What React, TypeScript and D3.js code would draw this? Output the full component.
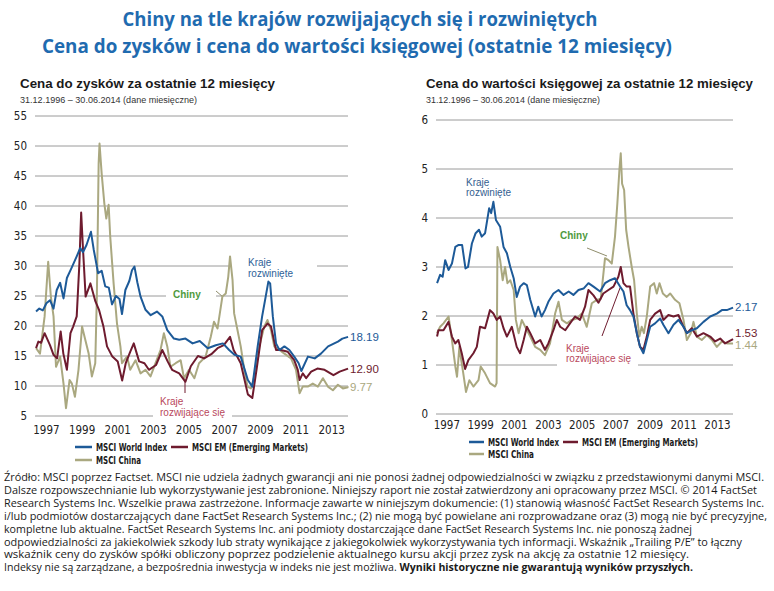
import * as d3 from "d3";
import { ReactNode } from "react";

// P/E (trailing 12m), monthly source data: [year, value]
const peWorld: [number, number][] = [
  [1996.92, 22.4], [1997.1, 22.9], [1997.3, 22.6], [1997.5, 23.8], [1997.7, 24.3], [1997.9, 22.9],
  [1998.08, 26.0], [1998.27, 27.2], [1998.46, 24.6], [1998.65, 28.0], [1998.9, 29.6], [1999.2, 31.6],
  [1999.4, 33.0], [1999.55, 32.3], [1999.75, 33.5], [2000.0, 35.7], [2000.15, 32.8], [2000.4, 28.8],
  [2000.6, 29.2], [2000.8, 26.6], [2001.0, 26.4], [2001.18, 23.6], [2001.4, 25.0], [2001.6, 24.5],
  [2001.74, 22.0], [2001.93, 26.0], [2002.15, 27.5], [2002.3, 29.3], [2002.44, 29.9], [2002.6, 27.3],
  [2002.78, 24.9], [2003.06, 22.7], [2003.35, 21.8], [2003.7, 22.4], [2004.0, 21.6], [2004.28, 19.3],
  [2004.65, 17.9], [2004.95, 17.7], [2005.3, 17.9], [2005.7, 17.1], [2006.1, 17.5], [2006.55, 16.3],
  [2007.0, 16.8], [2007.4, 17.1], [2007.75, 16.0], [2008.05, 15.2], [2008.4, 14.9], [2008.8, 11.0],
  [2009.05, 9.9], [2009.35, 16.6], [2009.6, 21.6], [2009.8, 24.9], [2009.95, 27.4], [2010.05, 27.1],
  [2010.2, 21.6], [2010.38, 17.1], [2010.57, 16.0], [2010.85, 16.6], [2011.13, 16.0], [2011.4, 14.9],
  [2011.65, 13.8], [2011.8, 12.5], [2012.17, 14.9], [2012.55, 14.6], [2012.9, 15.4], [2013.3, 16.6],
  [2013.85, 17.4], [2014.1, 17.9], [2014.42, 18.19],
];

const peEM: [number, number][] = [
  [1996.92, 16.3], [1997.05, 17.4], [1997.2, 17.2], [1997.4, 18.8], [1997.7, 16.8], [1997.9, 15.2],
  [1998.1, 14.6], [1998.3, 19.1], [1998.45, 15.4], [1998.65, 12.7], [1998.85, 18.8], [1999.0, 19.9],
  [1999.2, 21.6], [1999.35, 30.4], [1999.45, 38.9], [1999.55, 33.0], [1999.7, 24.9], [1999.97, 27.1],
  [2000.25, 24.1], [2000.45, 22.7], [2000.7, 19.9], [2000.9, 16.6], [2001.2, 14.9], [2001.5, 14.1],
  [2001.75, 10.9], [2001.95, 13.8], [2002.2, 15.7], [2002.4, 17.1], [2002.7, 14.1], [2003.0, 13.8],
  [2003.25, 12.7], [2003.65, 13.5], [2004.0, 16.0], [2004.3, 14.1], [2004.55, 12.7], [2004.95, 12.1],
  [2005.3, 10.7], [2005.6, 13.3], [2006.0, 15.0], [2006.35, 14.6], [2006.75, 15.3], [2007.1, 16.3],
  [2007.45, 16.8], [2007.8, 18.2], [2008.0, 16.0], [2008.2, 14.9], [2008.4, 13.8], [2008.8, 8.6],
  [2009.05, 8.0], [2009.3, 13.0], [2009.6, 19.3], [2009.9, 20.4], [2010.1, 19.9], [2010.38, 16.0],
  [2010.65, 16.0], [2011.04, 15.7], [2011.4, 14.3], [2011.6, 12.7], [2011.7, 11.0], [2011.88, 12.1],
  [2012.07, 11.3], [2012.35, 12.4], [2012.7, 12.9], [2013.1, 12.7], [2013.6, 11.8], [2013.95, 12.4],
  [2014.42, 12.9],
];

const peChina: [number, number][] = [
  [1996.92, 16.3], [1997.14, 15.4], [1997.4, 21.6], [1997.6, 30.7], [1997.75, 24.9], [1997.9, 21.6],
  [1998.04, 13.2], [1998.27, 14.9], [1998.46, 10.4], [1998.6, 6.3], [1998.8, 11.0], [1998.93, 10.4],
  [1999.1, 8.2], [1999.3, 12.7], [1999.5, 19.9], [1999.68, 17.7], [1999.87, 15.4], [2000.05, 11.6],
  [2000.24, 13.8], [2000.33, 24.9], [2000.43, 47.1], [2000.48, 50.4], [2000.6, 45.4], [2000.75, 40.4],
  [2000.86, 37.9], [2000.99, 40.2], [2001.08, 34.9], [2001.27, 27.1], [2001.46, 20.4], [2001.65, 16.6],
  [2001.74, 13.8], [2002.02, 14.9], [2002.2, 12.7], [2002.5, 14.3], [2002.78, 12.1], [2003.06, 12.7],
  [2003.34, 11.6], [2003.62, 13.8], [2003.9, 16.0], [2004.09, 18.8], [2004.28, 16.6], [2004.46, 13.2],
  [2004.75, 13.8], [2005.03, 14.3], [2005.22, 11.3], [2005.5, 12.7], [2005.8, 11.3], [2006.06, 13.8],
  [2006.43, 14.9], [2006.72, 18.2], [2006.9, 20.7], [2007.1, 19.6], [2007.37, 24.9], [2007.56, 25.4],
  [2007.7, 28.2], [2007.8, 31.6], [2007.94, 27.7], [2008.03, 22.1], [2008.22, 19.3], [2008.4, 16.6],
  [2008.6, 12.7], [2008.78, 9.9], [2008.97, 9.6], [2009.16, 11.6], [2009.44, 16.6], [2009.72, 19.9],
  [2009.9, 21.0], [2010.1, 19.3], [2010.28, 16.6], [2010.57, 16.0], [2010.85, 15.4], [2011.22, 14.6],
  [2011.5, 12.7], [2011.7, 8.8], [2011.88, 9.9], [2012.16, 9.9], [2012.44, 10.4], [2012.73, 9.9],
  [2013.01, 11.3], [2013.29, 9.9], [2013.57, 9.3], [2013.85, 10.2], [2014.13, 9.6], [2014.42, 9.77],
];

// P/BV (trailing 12m)
const pbWorld: [number, number][] = [
  [1996.92, 2.67], [1997.1, 2.84], [1997.25, 2.8], [1997.4, 3.14], [1997.6, 2.94], [1997.8, 3.07],
  [1998.0, 3.41], [1998.2, 3.45], [1998.4, 3.45], [1998.6, 2.97], [1998.75, 3.0], [1998.98, 3.48],
  [1999.2, 3.69], [1999.4, 3.76], [1999.56, 3.62], [1999.76, 3.69], [2000.0, 4.2], [2000.12, 4.1],
  [2000.25, 4.33], [2000.4, 3.96], [2000.65, 3.82], [2000.85, 3.41], [2001.05, 3.28], [2001.25, 3.0],
  [2001.45, 2.77], [2001.63, 2.39], [2001.83, 2.6], [2002.04, 2.67], [2002.23, 2.63], [2002.43, 2.33],
  [2002.72, 1.99], [2002.9, 2.19], [2003.1, 1.99], [2003.3, 2.12], [2003.5, 2.29], [2003.8, 2.46],
  [2004.1, 2.53], [2004.4, 2.43], [2004.7, 2.5], [2004.98, 2.43], [2005.28, 2.53], [2005.58, 2.56],
  [2005.87, 2.67], [2006.17, 2.6], [2006.56, 2.5], [2006.85, 2.67], [2007.15, 2.73], [2007.44, 2.77],
  [2007.74, 2.6], [2007.94, 2.5], [2008.13, 2.22], [2008.33, 2.12], [2008.53, 1.99], [2008.73, 1.65],
  [2008.92, 1.37], [2009.12, 1.24], [2009.32, 1.51], [2009.52, 1.78], [2009.81, 1.85], [2010.11, 1.95],
  [2010.3, 1.82], [2010.6, 1.65], [2010.9, 1.82], [2011.19, 1.92], [2011.49, 1.78], [2011.69, 1.65],
  [2011.98, 1.71], [2012.28, 1.75], [2012.67, 1.88], [2013.07, 1.99], [2013.46, 2.05], [2013.76, 2.12],
  [2014.05, 2.12], [2014.42, 2.17],
];

const pbEM: [number, number][] = [
  [1996.92, 1.58], [1997.0, 1.71], [1997.3, 1.71], [1997.6, 1.88], [1997.8, 1.58], [1998.0, 1.44],
  [1998.18, 1.51], [1998.38, 1.24], [1998.58, 0.92], [1998.77, 1.1], [1999.07, 1.24], [1999.27, 1.37],
  [1999.46, 1.78], [1999.76, 1.75], [2000.05, 2.12], [2000.25, 2.05], [2000.45, 1.92], [2000.65, 1.99],
  [2000.85, 1.75], [2001.05, 1.58], [2001.34, 1.78], [2001.63, 1.37], [2001.83, 1.24], [2002.04, 1.51],
  [2002.23, 1.78], [2002.43, 1.65], [2002.72, 1.44], [2003.02, 1.51], [2003.3, 1.31], [2003.5, 1.44],
  [2003.8, 1.71], [2004.0, 1.92], [2004.2, 1.78], [2004.5, 1.71], [2004.78, 1.85], [2005.08, 1.99],
  [2005.37, 1.92], [2005.67, 2.19], [2005.87, 2.53], [2006.17, 2.42], [2006.46, 2.27], [2006.75, 2.46],
  [2007.05, 2.53], [2007.35, 2.6], [2007.64, 2.8], [2007.78, 3.0], [2007.94, 2.67], [2008.13, 2.6],
  [2008.33, 2.6], [2008.53, 2.05], [2008.73, 1.65], [2008.92, 1.37], [2009.12, 1.31], [2009.32, 1.58],
  [2009.52, 1.92], [2009.81, 2.05], [2010.11, 2.12], [2010.3, 1.92], [2010.6, 2.02], [2010.9, 1.99],
  [2011.19, 2.02], [2011.49, 1.78], [2011.69, 1.65], [2011.98, 1.75], [2012.28, 1.58], [2012.67, 1.65],
  [2013.07, 1.58], [2013.36, 1.48], [2013.66, 1.54], [2013.95, 1.44], [2014.42, 1.53],
];

const pbChina: [number, number][] = [
  [1996.92, 1.65], [1997.1, 1.78], [1997.3, 1.85], [1997.6, 1.99], [1997.8, 1.51], [1998.0, 0.97],
  [1998.1, 0.76], [1998.24, 1.37], [1998.35, 1.1], [1998.47, 0.83], [1998.63, 0.45], [1998.83, 0.69],
  [1999.07, 0.56], [1999.37, 0.69], [1999.5, 0.97], [1999.76, 0.83], [2000.05, 0.63], [2000.35, 0.56],
  [2000.44, 0.63], [2000.49, 3.41], [2000.65, 3.14], [2000.8, 2.73], [2000.94, 3.0], [2001.08, 2.67],
  [2001.25, 2.73], [2001.45, 2.53], [2001.58, 1.92], [2001.74, 1.65], [2001.93, 1.92], [2002.13, 1.78],
  [2002.43, 1.58], [2002.72, 1.37], [2003.02, 1.31], [2003.3, 1.2], [2003.6, 1.44], [2003.9, 2.05],
  [2004.1, 2.29], [2004.3, 1.92], [2004.6, 1.85], [2004.88, 1.92], [2005.18, 1.95], [2005.48, 2.05],
  [2005.77, 1.78], [2006.07, 2.26], [2006.37, 2.33], [2006.6, 2.35], [2006.85, 3.18], [2007.05, 3.14],
  [2007.25, 3.07], [2007.44, 3.62], [2007.58, 4.3], [2007.7, 4.98], [2007.78, 5.32], [2007.86, 4.7],
  [2007.98, 4.57], [2008.1, 3.76], [2008.24, 3.41], [2008.43, 3.0], [2008.57, 2.73], [2008.73, 2.05],
  [2008.88, 1.58], [2009.02, 1.78], [2009.15, 1.65], [2009.32, 1.99], [2009.52, 2.6], [2009.75, 2.67],
  [2009.91, 2.46], [2010.07, 2.67], [2010.27, 2.46], [2010.5, 2.39], [2010.7, 2.46], [2010.99, 2.33],
  [2011.25, 2.26], [2011.49, 1.92], [2011.69, 1.51], [2011.92, 1.65], [2012.08, 1.88], [2012.28, 1.58],
  [2012.57, 1.51], [2012.87, 1.61], [2013.17, 1.51], [2013.46, 1.37], [2013.76, 1.48], [2014.05, 1.44],
  [2014.42, 1.44],
];

const yearTicks = [1997, 1999, 2001, 2003, 2005, 2007, 2009, 2011, 2013];
const peTicks = [5, 10, 15, 20, 25, 30, 35, 40, 45, 50, 55];
const pbTicks = [0, 1, 2, 3, 4, 5, 6];
const peLast = ["18.19", "12.90", "9.77"];
const pbLast = ["2.17", "1.53", "1.44"];
const legendNames = ["MSCI World Index", "MSCI EM (Emerging Markets)", "MSCI China"];

const START = 1996 + 11 / 12;
const END = 2014 + 5 / 12;

const C_WORLD = "#1d5a98";
const C_EM = "#6e1b2e";
const C_CHINA = "#aaa880";
const C_GRID = "#9a9a9a";
const NARROW = "'Liberation Sans Narrow', 'Arial Narrow', 'DejaVu Sans Condensed', sans-serif";
const SANS = "'Liberation Sans', Arial, sans-serif";
const CAL = "'Open Sans', 'Noto Sans', sans-serif";

type Props = {
  left: number;
  right: number;
  top: number;
  bottom: number;
  yDomain: [number, number];
  yTicks: number[];
  tickFmt: (v: number) => string;
  yearBaseline: number;
  world: [number, number][];
  em: [number, number][];
  china: [number, number][];
  lastLabels: string[];
  lastY: number[];
  annotations: ReactNode;
};

function Panel(p: Props) {
  const x = d3.scaleLinear().domain([START, END]).range([p.left, p.right]);
  const y = d3.scaleLinear().domain(p.yDomain).range([p.bottom, p.top]);
  const line = d3
    .line<[number, number]>()
    .x(d => x(d[0]))
    .y(d => y(d[1]))
    .curve(d3.curveLinear);

  const series = [
    { data: p.china, color: C_CHINA },
    { data: p.em, color: C_EM },
    { data: p.world, color: C_WORLD },
  ];
  const labelColors = [C_WORLD, C_EM, C_CHINA];

  return (
    <g>
      {p.yTicks.map(t => (
        <g key={t}>
          <line x1={p.left - 1} x2={p.right} y1={y(t)} y2={y(t)} stroke={C_GRID} strokeWidth={1} />
          <text x={p.left - 9} y={y(t) + 4} textAnchor="end" fontFamily={NARROW} fontSize={11.5} fill="#222">
            {p.tickFmt(t)}
          </text>
        </g>
      ))}
      {yearTicks.map(yr => (
        <text key={yr} x={x(yr + 0.5)} y={p.yearBaseline} textAnchor="middle" fontFamily={NARROW} fontSize={11.5} fill="#222">
          {yr}
        </text>
      ))}
      {p.annotations}
      {series.map((s, i) => (
        <path key={i} d={line(s.data) ?? ""} fill="none" stroke={s.color} strokeWidth={2} strokeLinejoin="round" />
      ))}
      {p.lastLabels.map((l, i) => (
        <text key={l} x={p.right + 2} y={p.lastY[i]} fontFamily={SANS} fontSize={11.5} fill={labelColors[i]}>
          {l}
        </text>
      ))}
    </g>
  );
}

function Legend({ x, y, x2, rowGap, lineW, w1, w2, w3 }: { x: number; y: number; x2: number; rowGap: number; lineW: number; w1: number; w2: number; w3: number }) {
  const items = [
    { lx: x, ly: y, color: C_WORLD, w: w1 },
    { lx: x2, ly: y, color: C_EM, w: w2 },
    { lx: x, ly: y + rowGap, color: C_CHINA, w: w3 },
  ];
  return (
    <g>
      {items.map((it, i) => (
        <g key={i}>
          <line x1={it.lx} x2={it.lx + lineW} y1={it.ly} y2={it.ly} stroke={it.color} strokeWidth={2.5} />
          <text
            x={it.lx + lineW + 4}
            y={it.ly + 3.5}
            fontFamily={NARROW}
            fontSize={10}
            fontWeight="bold"
            fill="#1a1a1a"
            textLength={it.w}
            lengthAdjust="spacingAndGlyphs"
          >
            {legendNames[i]}
          </text>
        </g>
      ))}
    </g>
  );
}

const footLines = [
  "Źródło: MSCI poprzez Factset. MSCI nie udziela żadnych gwarancji ani nie ponosi żadnej odpowiedzialności w związku z przedstawionymi danymi MSCI.",
  "Dalsze rozpowszechnianie lub wykorzystywanie jest zabronione. Niniejszy raport nie został zatwierdzony ani opracowany przez MSCI. © 2014 FactSet",
  "Research Systems Inc. Wszelkie prawa zastrzeżone. Informacje zawarte w niniejszym dokumencie: (1) stanowią własność FactSet Research Systems Inc.",
  "i/lub podmiotów dostarczających dane FactSet Research Systems Inc.; (2) nie mogą być powielane ani rozprowadzane oraz (3) mogą nie być precyzyjne,",
  "kompletne lub aktualne. FactSet Research Systems Inc. ani podmioty dostarczające dane FactSet Research Systems Inc. nie ponoszą żadnej",
  "odpowiedzialności za jakiekolwiek szkody lub straty wynikające z jakiegokolwiek wykorzystywania tych informacji. Wskaźnik „Trailing P/E” to łączny",
  "wskaźnik ceny do zysków spółki obliczony poprzez podzielenie aktualnego kursu akcji przez zysk na akcję za ostatnie 12 miesięcy.",
];
const footWidths = [760, 753, 760, 763, 688, 738, 685];

export default function App() {
  return (
    <div style={{ position: "absolute", left: 0, top: 0 }}>
      <svg width={774} height={591} style={{ display: "block", background: "#fff" }}>
        <rect width={774} height={591} fill="#fff" />
        {/* main title */}
        <text x={360} y={26} textAnchor="middle" fontFamily={CAL} fontWeight="bold" fontSize={19} fill="#1f6bb0" textLength={475} lengthAdjust="spacingAndGlyphs">
          Chiny na tle krajów rozwijających się i rozwiniętych
        </text>
        <text x={357} y={53} textAnchor="middle" fontFamily={CAL} fontWeight="bold" fontSize={19} fill="#1f6bb0" textLength={630} lengthAdjust="spacingAndGlyphs">
          Cena do zysków i cena do wartości księgowej (ostatnie 12 miesięcy)
        </text>

        {/* left panel titles */}
        <text x={20} y={88} fontFamily={SANS} fontWeight="bold" fontSize={13} fill="#1a1a1a" textLength={255} lengthAdjust="spacingAndGlyphs">
          Cena do zysków  za ostatnie 12 miesięcy
        </text>
        <text x={20} y={103} fontFamily={SANS} fontSize={8.5} fill="#333" textLength={177} lengthAdjust="spacingAndGlyphs">
          31.12.1996 – 30.06.2014 (dane miesięczne)
        </text>
        {/* right panel titles */}
        <text x={426} y={88} fontFamily={SANS} fontWeight="bold" fontSize={13} fill="#1a1a1a" textLength={327} lengthAdjust="spacingAndGlyphs">
          Cena do wartości księgowej za ostatnie 12 miesięcy
        </text>
        <text x={426} y={103} fontFamily={SANS} fontSize={8.5} fill="#333" textLength={174} lengthAdjust="spacingAndGlyphs">
          31.12.1996 – 30.06.2014 (dane miesięczne)
        </text>

        <Panel
          left={36}
          right={348}
          top={116}
          bottom={416}
          yDomain={[5, 55]}
          yTicks={peTicks}
          tickFmt={v => String(v)}
          yearBaseline={434}
          world={peWorld}
          em={peEM}
          china={peChina}
          lastLabels={peLast}
          lastY={[341, 373, 391]}
          annotations={
            <g>
              <rect x={232} y={254} width={85} height={25} fill="#fff" />
              <text x={248} y={266} fontFamily={SANS} fontSize={10} fill="#2e5f98">Kraje</text>
              <text x={248} y={277} fontFamily={SANS} fontSize={10} fill="#2e5f98">rozwinięte</text>
              <rect x={166} y={289} width={50} height={13} fill="#fff" />
              <text x={173} y={298} fontFamily={SANS} fontSize={10} fontWeight="bold" fill="#4f9a3e">Chiny</text>
              <line x1={216} y1={291} x2={223} y2={297} stroke="#8f8d6c" strokeWidth={1} />
              <rect x={153} y={394} width={79} height={26} fill="#fff" />
              <text x={160} y={405} fontFamily={SANS} fontSize={10} fill="#b9485c">Kraje</text>
              <text x={160} y={416} fontFamily={SANS} fontSize={10} fill="#b9485c">rozwijające się</text>
              <line x1={185} y1={381} x2={185} y2={393} stroke={C_EM} strokeWidth={1} />
              <line x1={342} y1={387} x2={349} y2={387} stroke={C_CHINA} strokeWidth={1} />
            </g>
          }
        />

        <Panel
          left={437}
          right={733}
          top={120}
          bottom={414}
          yDomain={[0, 6]}
          yTicks={pbTicks}
          tickFmt={v => String(v)}
          yearBaseline={429}
          world={pbWorld}
          em={pbEM}
          china={pbChina}
          lastLabels={pbLast}
          lastY={[311, 337, 349]}
          annotations={
            <g>
              <text x={466} y={186} fontFamily={SANS} fontSize={10} fill="#35608f">Kraje</text>
              <text x={466} y={196} fontFamily={SANS} fontSize={10} fill="#35608f">rozwinięte</text>
              <text x={560} y={239} fontFamily={SANS} fontSize={10} fontWeight="bold" fill="#4f9a3e">Chiny</text>
              <line x1={587} y1={248} x2={607} y2={256} stroke="#8f8d6c" strokeWidth={1} />
              <rect x={557} y={341} width={81} height={26} fill="#fff" />
              <text x={566} y={352} fontFamily={SANS} fontSize={10} fill="#b9485c">Kraje</text>
              <text x={566} y={362} fontFamily={SANS} fontSize={10} fill="#b9485c">rozwijające się</text>
              <line x1={602} y1={336} x2={620} y2={288} stroke={C_EM} strokeWidth={1} />
            </g>
          }
        />

        <Legend x={75} y={447} x2={171} rowGap={13} lineW={17} w1={71} w2={116} w3={45} />
        <Legend x={469} y={442} x2={563} rowGap={12} lineW={15} w1={71} w2={116} w3={46} />

        {/* footnote */}
        {footLines.map((l, i) => (
          <text key={i} x={4} y={481 + i * 12.9} fontFamily={CAL} fontSize={10.5} fill="#1a1a1a" textLength={footWidths[i]} lengthAdjust="spacingAndGlyphs">
            {l}
          </text>
        ))}
        <text x={4} y={481 + 7 * 12.9} fontFamily={CAL} fontSize={10.5} fill="#1a1a1a" textLength={689} lengthAdjust="spacingAndGlyphs">
          Indeksy nie są zarządzane, a bezpośrednia inwestycja w indeks nie jest możliwa.{" "}
          <tspan fontWeight="bold">Wyniki historyczne nie gwarantują wyników przyszłych.</tspan>
        </text>
      </svg>
    </div>
  );
}
